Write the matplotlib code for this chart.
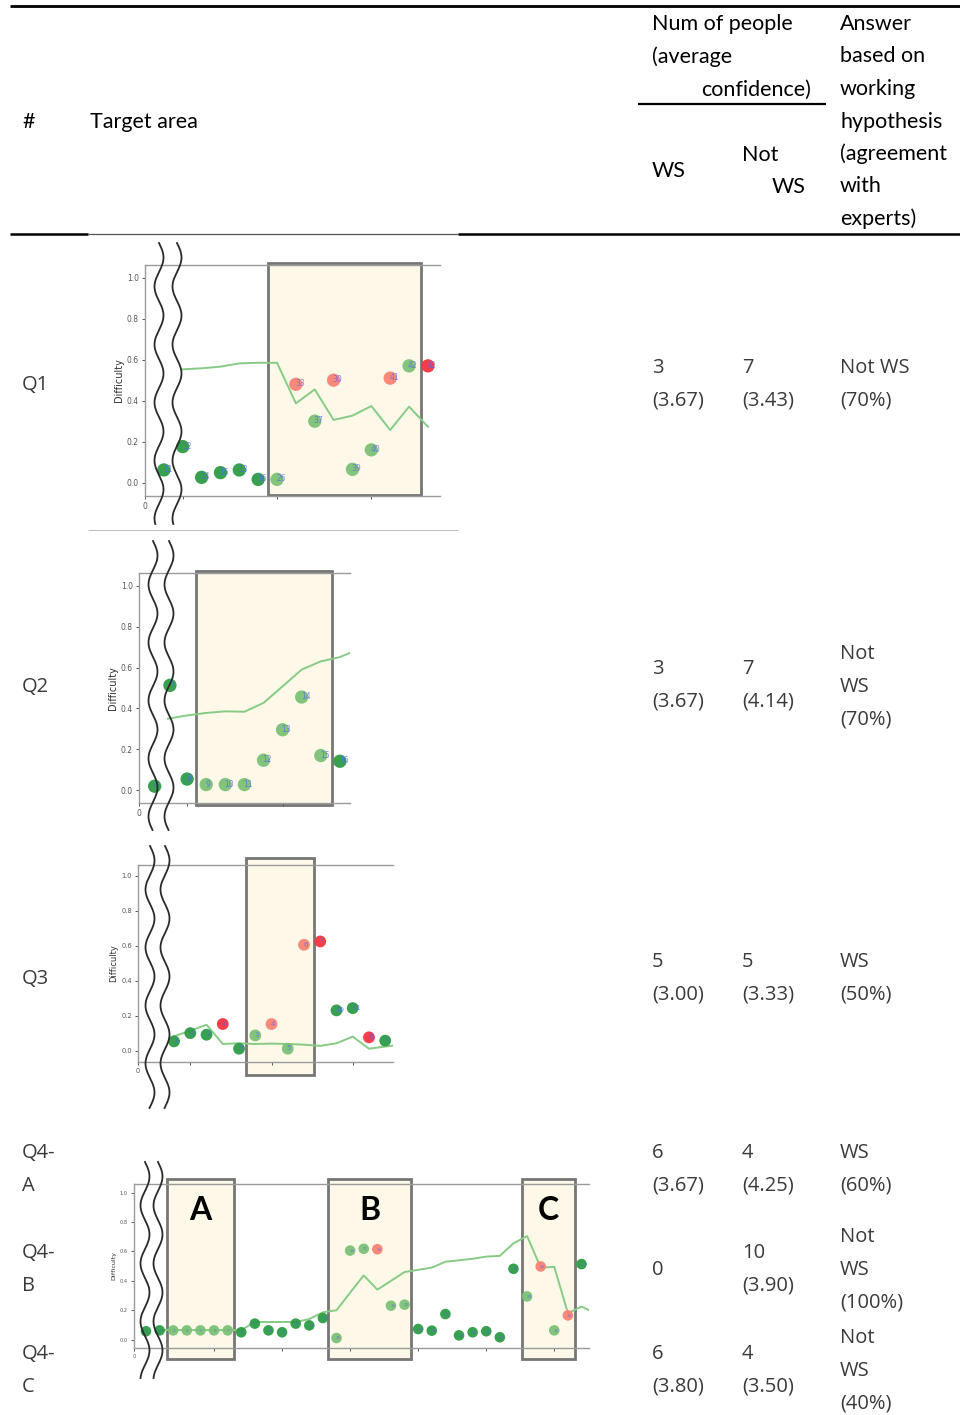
import numpy as np
import matplotlib
matplotlib.use("Agg")
import matplotlib.pyplot as plt
from matplotlib.patches import Rectangle

W, H = 960, 1415

# ---- table contents ----
row_names = ["Q1", "Q2", "Q3", "Q4-\nA", "Q4-\nB", "Q4-\nC"]
ws_count = ["3", "3", "5", "6", "0", "6"]
ws_conf = ["(3.67)", "(3.67)", "(3.00)", "(3.67)", "", "(3.80)"]
notws_count = ["7", "7", "5", "4", "10", "4"]
notws_conf = ["(3.43)", "(4.14)", "(3.33)", "(4.25)", "(3.90)", "(3.50)"]
answers = ["Not WS\n(70%)", "Not\nWS\n(70%)", "WS\n(50%)", "WS\n(60%)",
           "Not\nWS\n(100%)", "Not\nWS\n(40%)"]

# ---- difficulty panels (x = question index, y = difficulty) ----
q1_x = [4, 5, 6, 7, 8, 9, 10, 11, 12, 13, 14, 15, 16, 17, 18]
q1_y = [0.062, 0.176, 0.026, 0.049, 0.062, 0.016, 0.016, 0.48, 0.30, 0.50,
        0.065, 0.16, 0.51, 0.57, 0.57]
q1_kind = ["dg", "dg", "dg", "dg", "dg", "dg", "lg", "sa", "lg", "sa",
           "lg", "lg", "sa", "lg", "rd"]
q1_lab = ["11", "12", "14", "15", "13", "16", "26", "33", "37", "30",
          "39", "40", "41", "42", "42"]
q1_line_x = [5, 6, 7, 8, 9, 10, 11, 12, 13, 14, 15, 16, 17, 18]
q1_line_y = [0.553, 0.558, 0.566, 0.582, 0.585, 0.585, 0.387, 0.455, 0.306,
             0.327, 0.374, 0.257, 0.371, 0.273]

q2_x = [3.3, 4.1, 5, 6, 7, 8, 9, 10, 11, 12, 13]
q2_y = [0.02, 0.513, 0.055, 0.028, 0.028, 0.028, 0.147, 0.296, 0.456, 0.17, 0.142]
q2_kind = ["dg", "dg", "dg", "lg", "lg", "lg", "lg", "lg", "lg", "lg", "dg"]
q2_lab = ["6", "7", "8", "9", "10", "11", "12", "13", "14", "15", "16"]
q2_line_x = [4, 5, 6, 7, 8, 9, 10, 11, 12, 13, 14]
q2_line_y = [0.35, 0.366, 0.378, 0.386, 0.384, 0.427, 0.508, 0.59, 0.63, 0.651, 0.69]

q3_x = [4, 5, 6, 7, 8, 9, 10, 11, 12, 13, 14, 15, 16, 17]
q3_y = [0.053, 0.10, 0.091, 0.152, 0.011, 0.087, 0.152, 0.011, 0.605, 0.624,
        0.23, 0.243, 0.076, 0.057]
q3_kind = ["dg", "dg", "dg", "rd", "dg", "lg", "sa", "lg", "sa", "rd",
           "dg", "dg", "rd", "dg"]
q3_lab = ["1", "2", "3", "4", "5", "3", "4", "5", "6", "9", "10", "11", "8", "7"]
q3_line_x = [4, 5, 6, 7, 8, 9, 10, 11, 12, 13, 14, 15, 16, 17, 18]
q3_line_y = [0.082, 0.114, 0.148, 0.038, 0.042, 0.038, 0.040, 0.038, 0.034,
             0.027, 0.042, 0.08, 0.011, 0.023, 0.035]

q4_x = list(range(33))
q4_y = [0.057, 0.063, 0.063, 0.063, 0.063, 0.063, 0.063, 0.05, 0.109, 0.063,
        0.05, 0.109, 0.097, 0.147, 0.011, 0.606, 0.618, 0.615, 0.231, 0.238,
        0.072, 0.061, 0.174, 0.029, 0.05, 0.057, 0.016, 0.482, 0.294, 0.498,
        0.063, 0.165, 0.514]
q4_kind = ["dg", "dg", "lg", "lg", "lg", "lg", "lg", "dg", "dg", "dg",
           "dg", "dg", "dg", "dg", "lg", "lg", "lg", "sa", "lg", "lg",
           "dg", "dg", "dg", "dg", "dg", "dg", "dg", "dg", "lg", "sa",
           "lg", "sa", "dg"]
q4_lab = [str(i + 1) for i in range(33)]
q4_line_x = list(range(1, 34))
q4_line_y = [0.065, 0.065, 0.065, 0.065, 0.065, 0.065, 0.065, 0.12, 0.12, 0.12,
             0.12, 0.14, 0.186, 0.20, 0.32, 0.437, 0.34, 0.40, 0.46, 0.475,
             0.49, 0.53, 0.54, 0.55, 0.565, 0.57, 0.655, 0.705, 0.49, 0.495,
             0.18, 0.225, 0.18]
q4_boxes = [(1.57, 6.47), (13.38, 19.46), (27.6, 31.5)]
q4_box_names = ["A", "B", "C"]

colors = {"dg": "#2c9c45", "lg": "#7cc276", "sa": "#fb8374", "rd": "#f4333f"}
line_col = "#86cc84"
box_face = "#fdf8e8"
box_edge = "#767676"
spine_col = "#9a9a9a"

fig = plt.figure(figsize=(W / 100, H / 100), dpi=100)


def px_axes(x0, y0, x1, y1):
    return fig.add_axes([x0 / W, 1 - y1 / H, (x1 - x0) / W, (y1 - y0) / H])


def panel(ax, xs, ys, kinds, labels, lx, ly, boxes, xlim, ylim, ticks,
          box_y, s, tfs, lfs, nfs):
    ax.set_xlim(*xlim)
    ax.set_ylim(*ylim)
    for x0, x1 in boxes:
        ax.add_patch(Rectangle((x0, box_y[0]), x1 - x0, box_y[1] - box_y[0],
                               facecolor=box_face, edgecolor=box_edge, lw=2,
                               clip_on=False, zorder=1))
    ax.plot(lx, ly, color=line_col, lw=1.4, zorder=2)
    ax.scatter(xs, ys, s=s, c=[colors[k] for k in kinds], edgecolors="none",
               alpha=0.95, zorder=3)
    for x, y, t in zip(xs, ys, labels):
        ax.text(x - 0.05, y - 0.01, t, fontsize=nfs, color="#5a62ff",
                alpha=0.75, zorder=4)
    ax.spines["right"].set_visible(False)
    for sp in ["left", "top", "bottom"]:
        ax.spines[sp].set_color(spine_col)
        ax.spines[sp].set_linewidth(1.0)
    ax.set_yticks([0, 0.2, 0.4, 0.6, 0.8, 1.0])
    ax.set_yticklabels(["0.0", "0.2", "0.4", "0.6", "0.8", "1.0"])
    ax.set_xticks([xlim[0]] + ticks)
    ax.set_xticklabels(["0"] + [""] * len(ticks))
    ax.tick_params(colors="#555555", labelsize=tfs, length=2.5, width=0.7,
                   pad=2)
    ax.set_ylabel("Difficulty", fontsize=lfs, color="#333333", labelpad=2)
    ax.set_facecolor("white")


ax1 = px_axes(145, 265, 440, 496)
panel(ax1, q1_x, q1_y, q1_kind, q1_lab, q1_line_x, q1_line_y, [(9.5, 17.63)],
      (3.0, 18.64), (-0.065, 1.062), [5, 10, 15], (-0.06, 1.07), 92, 5.5, 7, 5.5)

ax2 = px_axes(139, 573, 350, 803)
panel(ax2, q2_x, q2_y, q2_kind, q2_lab, q2_line_x, q2_line_y, [(5.45, 12.57)],
      (2.48, 13.53), (-0.062, 1.062), [5, 10], (-0.07, 1.07), 92, 5.5, 7, 5.5)

ax3 = px_axes(138, 865, 393, 1062)
panel(ax3, q3_x, q3_y, q3_kind, q3_lab, q3_line_x, q3_line_y, [(8.45, 12.6)],
      (1.78, 17.48), (-0.065, 1.061), [5, 10, 15], (-0.14, 1.10), 72, 4.8, 6, 5)

ax4 = px_axes(134, 1184, 589, 1348)
panel(ax4, q4_x, q4_y, q4_kind, q4_lab, q4_line_x, q4_line_y, q4_boxes,
      (-0.88, 32.55), (-0.057, 1.059), [5, 10, 15, 20, 25, 30],
      (-0.129, 1.09), 58, 3.6, 4.6, 3)
for (x0, x1), name in zip(q4_boxes, q4_box_names):
    ax4.text((x0 + x1) / 2, 0.88, name, ha="center", va="center",
             fontsize=23, fontweight="bold", family="Lato", color="black",
             zorder=5)

# ---- overlay in pixel coordinates: table text, rules, axis breaks ----
ov = fig.add_axes([0, 0, 1, 1])
ov.set_xlim(0, W)
ov.set_ylim(H, 0)
ov.axis("off")
ov.patch.set_alpha(0)


def hline(y, x0, x1, lw=1.6, color="black"):
    ov.plot([x0, x1], [y, y], color=color, lw=lw, solid_capstyle="butt")


hline(6, 10, 960, lw=2.0)
hline(234, 10, 88, lw=1.8)
hline(234, 88, 458, lw=0.9, color="#555555")
hline(234, 458, 960, lw=1.8)
hline(104, 638, 826, lw=1.6)
hline(530, 88, 458, lw=0.7, color="#bbbbbb")

# axis-break wavy lines (left/right centre, top, bottom)
breaks = [(159, 177, 243, 524), (153, 169, 541, 830),
          (150, 165, 846, 1108), (145, 158, 1162, 1378)]
for xa, xb, y0, y1 in breaks:
    yy = np.linspace(y0, y1, 300)
    for xc in (xa, xb):
        ov.plot(xc + 4.5 * np.sin(2 * np.pi * (yy - y0) / 58), yy,
                color="#2a2a2a", lw=1.3)

hfont = dict(family="Lato", fontsize=15.5, color="black", va="center")
ov.text(22, 122, "#", **hfont)
ov.text(90, 122, "Target area", **hfont)
ov.text(652, 24, "Num of people", **hfont)
ov.text(652, 57, "(average", **hfont)
ov.text(811, 90, "confidence)", ha="right", **hfont)
ov.text(652, 171, "WS", **hfont)
ov.text(742, 155, "Not", **hfont)
ov.text(806, 187, "WS", ha="right", **hfont)
for i, t in enumerate(["Answer", "based on", "working", "hypothesis",
                       "(agreement", "with", "experts)"]):
    ov.text(840, 24 + i * 32.5, t, **hfont)

bfont = dict(family="Open Sans", fontsize=14.5, color="#3a3a3a", va="center")
LS = 32.7  # body line pitch in pixels


def cell(x, y_first, txt):
    for k, line in enumerate(txt.split("\n")):
        ov.text(x, y_first + k * LS, line, **bfont)


# first-line centre of each cell, per row
name_y = [385, 687, 979, 1153, 1253, 1354]
ws_y = [368, 669, 962, 1153, 1270, 1354]
notws_y = [368, 669, 962, 1153, 1253, 1354]
ans_y = [368, 654, 962, 1153, 1237, 1338]
for i in range(len(row_names)):
    cell(22, name_y[i], row_names[i])
    ws_txt = ws_count[i] + ("\n" + ws_conf[i] if ws_conf[i] else "")
    cell(652, ws_y[i], ws_txt)
    cell(742, notws_y[i], notws_count[i] + "\n" + notws_conf[i])
    cell(840, ans_y[i], answers[i])

fig.savefig("out.png", dpi=100)
